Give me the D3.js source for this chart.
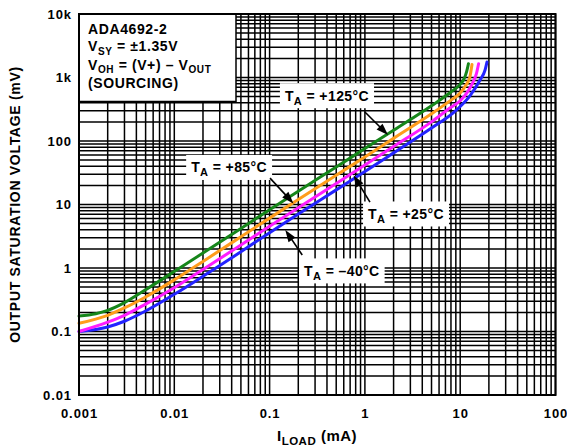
<!DOCTYPE html>
<html>
<head>
<meta charset="utf-8">
<script src="https://cdn.jsdelivr.net/npm/d3@7"></script>
<style>
	body	{margin:0;background:#fff;}
	text	{font-family:"Liberation Sans",Arial,sans-serif;font-weight:bold;fill:#000;}
</style>
</head>
<body>
<svg id="chart" width="567" height="448"></svg>
<script>
// tick labels
var	xTickValues	= [0.001, 0.01, 0.1, 1, 10, 100],
	xTickLabels	= ["0.001", "0.01", "0.1", "1", "10", "100"],
	yTickValues	= [0.01, 0.1, 1, 10, 100, 1000, 10000],
	yTickLabels	= ["0.01", "0.1", "1", "10", "100", "1k", "10k"];

// series (I load in mA, Voh in mV)
var	tempLabels	= ["–40", "+25", "+85", "+125"];
var	iLoadM40	= [0.001, 0.002, 0.003, 0.005, 0.01, 0.02, 0.05, 0.1, 0.2, 0.5, 1, 2, 5, 8.5, 10, 12.7, 16.2, 18.2, 19.1],
	vSatM40		= [0.1, 0.118, 0.145, 0.21, 0.385, 0.74, 1.8, 3.6, 7.1, 17, 33, 65, 160, 280, 350, 520, 920, 1300, 1750];
var	iLoadP25	= [0.001, 0.002, 0.003, 0.005, 0.01, 0.02, 0.05, 0.1, 0.2, 0.5, 1, 2, 5, 8, 10, 12, 13.5, 14.8, 15.6],
	vSatP25		= [0.1, 0.14, 0.18, 0.27, 0.49, 0.95, 2.3, 4.55, 8.9, 21.5, 42, 82, 200, 340, 430, 600, 820, 1150, 1650];
var	iLoadP85	= [0.001, 0.002, 0.003, 0.005, 0.01, 0.02, 0.05, 0.1, 0.2, 0.5, 1, 2, 5, 8, 10, 11.5, 12.6, 13.3],
	vSatP85		= [0.135, 0.18, 0.235, 0.35, 0.65, 1.27, 3.1, 6.1, 12, 29, 56, 110, 268, 440, 570, 760, 1000, 1600];
var	iLoadP125	= [0.001, 0.0015, 0.002, 0.003, 0.005, 0.01, 0.02, 0.05, 0.1, 0.2, 0.5, 1, 2, 5, 8, 10, 11, 11.7, 12.2],
	vSatP125	= [0.175, 0.19, 0.215, 0.285, 0.455, 0.88, 1.72, 4.2, 8.3, 16.2, 39, 76, 148, 360, 590, 780, 960, 1250, 1650];

var	seriesI		= [iLoadM40, iLoadP25, iLoadP85, iLoadP125],
	seriesV		= [vSatM40, vSatP25, vSatP85, vSatP125],
	colors		= ["#2323ff", "#ff1cff", "#ff9d1c", "#16861a"];

// annotation layout, in data units: label centre, arrow tail, arrow tip
var	notes	= [
		{t:"+125", box:[0.40, 517], from:[1.0, 286], to:[1.75, 124]},
		{t:"+85",  box:[0.0376, 38.3], from:[0.101, 26], to:[0.178, 10.4]},
		{t:"+25",  box:[2.7, 7.09], from:[1.13, 10.9], to:[0.76, 29]},
		{t:"–40",  box:[0.573, 0.90], from:[0.22, 1.6], to:[0.146, 3.97]}
	];

var	svg	= d3.select("#chart"),
	pLeft	= 79, pRight = 555.5, pTop = 14, pBottom = 395,
	x	= d3.scaleLog().domain([0.001, 100]).range([pLeft, pRight]),
	y	= d3.scaleLog().domain([0.01, 10000]).range([pBottom, pTop]);

// grid
var grid = svg.append("g").attr("stroke", "#000").attr("stroke-width", 1.5);
grid.selectAll(".vx").data(x.ticks()).enter().append("line")
	.attr("x1", function(d) { return x(d); }).attr("x2", function(d) { return x(d); })
	.attr("y1", pTop).attr("y2", pBottom);
grid.selectAll(".hy").data(y.ticks()).enter().append("line")
	.attr("y1", function(d) { return y(d); }).attr("y2", function(d) { return y(d); })
	.attr("x1", pLeft).attr("x2", pRight);

// axes
var xAxis = svg.append("g").attr("transform", "translate(0," + pBottom + ")")
	.call(d3.axisBottom(x).tickValues(xTickValues).tickSize(0).tickPadding(13.5)
		.tickFormat(function(d, i) { return xTickLabels[i]; }));
var yAxis = svg.append("g").attr("transform", "translate(" + pLeft + ",0)")
	.call(d3.axisLeft(y).tickValues(yTickValues).tickSize(0).tickPadding(7)
		.tickFormat(function(d, i) { return yTickLabels[i]; }));
[xAxis, yAxis].forEach(function(a) {
	a.attr("font-family", null).attr("font-size", null);
	a.select(".domain").remove();
	a.selectAll("text").attr("font-size", 13).attr("letter-spacing", 0.9).attr("fill", "#000");
});

// legend box
svg.append("rect").attr("x", pLeft).attr("y", pTop).attr("width", 157).attr("height", 87.5)
	.attr("fill", "#fff").attr("stroke", "#000").attr("stroke-width", 1.5);
var lg = svg.append("g").attr("font-size", 14).attr("letter-spacing", 0.6);
lg.append("text").attr("x", 88).attr("y", 34).text("ADA4692-2");
var l2 = lg.append("text").attr("x", 88).attr("y", 51);
l2.append("tspan").text("V");
l2.append("tspan").attr("font-size", 10).attr("dy", 3.5).text("SY");
l2.append("tspan").attr("dy", -3.5).text(" = ±1.35V");
var l3 = lg.append("text").attr("x", 88).attr("y", 69.5);
l3.append("tspan").text("V");
l3.append("tspan").attr("font-size", 10).attr("dy", 3.5).text("OH");
l3.append("tspan").attr("dy", -3.5).text(" = (V+) – V");
l3.append("tspan").attr("font-size", 10).attr("dy", 3.5).text("OUT");
lg.append("text").attr("x", 88).attr("y", 87.5).text("(SOURCING)");

// curves
var line = d3.line().curve(d3.curveMonotoneX)
	.x(function(d) { return x(d[0]); }).y(function(d) { return y(d[1]); });
svg.append("g").selectAll("path").data(seriesI).enter().append("path")
	.attr("d", function(d, i) { return line(d.map(function(v, j) { return [v, seriesV[i][j]]; })); })
	.attr("fill", "none").attr("stroke", function(d, i) { return colors[i]; })
	.attr("stroke-width", 3).attr("stroke-linecap", "round");

// annotations
var ann = svg.append("g");
notes.forEach(function(n) {
	var	g	= ann.append("g"),
		cx	= x(n.box[0]), cy = y(n.box[1]);
	var	t	= g.append("text").attr("x", cx).attr("y", cy + 5).attr("text-anchor", "middle")
			.attr("font-size", 14).attr("letter-spacing", 0.4);
	t.append("tspan").text("T");
	t.append("tspan").attr("font-size", 11).attr("dy", 4).text("A");
	t.append("tspan").attr("dy", -4).text(" = " + n.t + "°C");
	var b = t.node().getBBox();
	g.insert("rect", "text").attr("x", b.x - 5).attr("y", cy - 12.5).attr("width", b.width + 10).attr("height", 25).attr("fill", "#fff");
	var	x1 = x(n.from[0]), y1 = y(n.from[1]), x2 = x(n.to[0]), y2 = y(n.to[1]),
		a  = Math.atan2(y2 - y1, x2 - x1), hl = 12, hw = 4.2;
	g.append("line").attr("x1", x1).attr("y1", y1)
		.attr("x2", x2 - hl * Math.cos(a) * 0.8).attr("y2", y2 - hl * Math.sin(a) * 0.8)
		.attr("stroke", "#000").attr("stroke-width", 1.6);
	g.append("path").attr("fill", "#000").attr("d", "M" + [x2, y2]
		+ "L" + [x2 - hl * Math.cos(a) + hw * Math.sin(a), y2 - hl * Math.sin(a) - hw * Math.cos(a)]
		+ "L" + [x2 - hl * Math.cos(a) - hw * Math.sin(a), y2 - hl * Math.sin(a) + hw * Math.cos(a)] + "Z");
});

// frame
svg.append("rect").attr("x", pLeft).attr("y", pTop).attr("width", pRight - pLeft).attr("height", pBottom - pTop)
	.attr("fill", "none").attr("stroke", "#000").attr("stroke-width", 2);

// axis titles
svg.append("text").attr("transform", "translate(20," + ((pTop + pBottom) / 2) + ") rotate(-90)")
	.attr("text-anchor", "middle").attr("font-size", 14).attr("letter-spacing", 0.7)
	.text("OUTPUT SATURATION VOLTAGE (mV)");
var xt = svg.append("text").attr("x", 317).attr("y", 441).attr("text-anchor", "middle")
	.attr("font-size", 15).attr("letter-spacing", 0.5);
xt.append("tspan").text("I");
xt.append("tspan").attr("font-size", 11.5).attr("dy", 4).text("LOAD");
xt.append("tspan").attr("dy", -4).text(" (mA)");
</script>
</body>
</html>
